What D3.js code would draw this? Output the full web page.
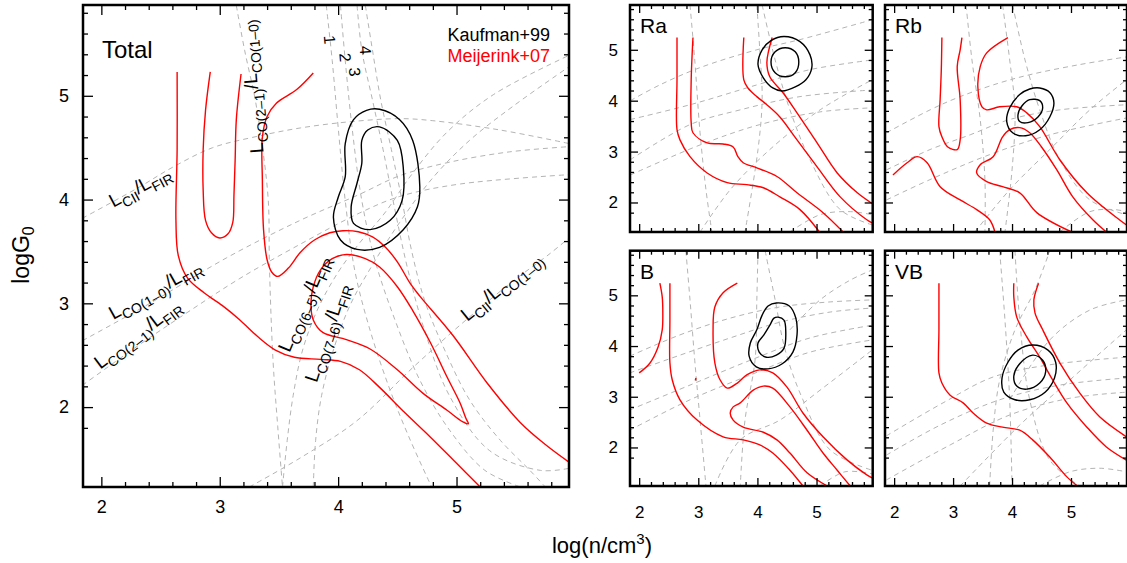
<!DOCTYPE html>
<html>
<head>
<meta charset="utf-8">
<title>PDR diagnostics</title>
<script src="https://d3js.org/d3.v7.min.js"></script>
<style>
  body { margin: 0; background: #fff; }
  text { font-family: "Liberation Sans", Arial, Helvetica, sans-serif; }
</style>
</head>
<body>
<script>
// ---- ticks ----
var xTicks = [2, 3, 4, 5];
var yTicks = [2, 3, 4, 5];
var panelNames = ["Total", "Ra", "Rb", "B", "VB"];
var legendNames = ["Kaufman+99", "Meijerink+07"];

// ---- Total panel: Meijerink+07 (red) ----
var totRed1 = [[2.64,5.23],[2.64,4.48],[2.63,3.80],[2.65,3.46],[2.73,3.24],[2.87,3.10],[3.02,2.98],[3.17,2.84],[3.32,2.68],[3.47,2.55],[3.63,2.48],[3.85,2.46],[4.02,2.44],[4.18,2.36],[4.35,2.19],[4.56,1.95],[4.78,1.71],[4.99,1.47],[5.2,1.23]];
var totRed2 = [[2.92,5.23],[2.88,4.86],[2.86,4.48],[2.86,4.09],[2.88,3.80],[2.93,3.68],[3.0,3.63],[3.07,3.67],[3.11,3.78],[3.12,4.04],[3.13,4.38],[3.14,4.77],[3.18,5.21]];
var totRed3 = [[3.79,5.22],[3.65,5.06],[3.48,4.93],[3.40,4.80],[3.36,4.60],[3.36,4.19],[3.37,3.71],[3.40,3.42],[3.44,3.30],[3.49,3.26],[3.58,3.34],[3.68,3.49],[3.80,3.61],[3.93,3.68],[4.04,3.70],[4.17,3.69],[4.29,3.64],[4.40,3.54],[4.50,3.40],[4.61,3.19],[4.69,3.07],[4.97,2.69],[5.26,2.23],[5.54,1.85],[5.75,1.64],[5.95,1.47]];
var totRed4 = [[4.07,3.47],[4.23,3.43],[4.35,3.35],[4.50,3.16],[4.63,2.93],[4.78,2.62],[4.92,2.29],[5.03,2.04],[5.08,1.89],[5.10,1.84],[5.05,1.86],[4.92,1.97],[4.72,2.13],[4.50,2.36],[4.27,2.56],[4.07,2.65],[3.87,2.72],[3.79,2.84],[3.77,3.00],[3.79,3.16],[3.85,3.32],[3.95,3.43]];
// ---- Total panel: Kaufman+99 (black, closed) ----
var totBlack1 = [[4.35,4.87],[4.52,4.77],[4.63,4.57],[4.69,4.12],[4.67,3.93],[4.55,3.71],[4.35,3.54],[4.16,3.52],[4.02,3.61],[3.96,3.83],[4.00,4.02],[4.06,4.22],[4.06,4.54],[4.13,4.77],[4.24,4.86]];
var totBlack2 = [[4.35,4.70],[4.50,4.57],[4.55,4.31],[4.54,3.99],[4.44,3.80],[4.27,3.71],[4.13,3.77],[4.11,3.93],[4.16,4.16],[4.20,4.35],[4.20,4.57],[4.25,4.67]];
// ---- Total panel: model ratio curves (grey dashed) ----
var totGrey1 = [[1.84,3.82],[2.32,4.12],[2.60,4.31],[2.94,4.50],[3.28,4.60],[3.68,4.69],[4.10,4.75],[4.52,4.78],[4.80,4.76],[5.37,4.67],[5.95,4.54]];
var totGrey2 = [[1.84,2.64],[2.41,3.00],[3.06,3.44],[3.68,3.80],[4.18,4.05],[4.52,4.23],[4.94,4.36],[5.45,4.46],[5.95,4.51]];
var totGrey3 = [[1.84,2.21],[2.32,2.60],[2.75,2.93],[3.17,3.24],[3.68,3.57],[4.18,3.87],[4.52,4.03],[5.03,4.15],[5.95,4.24]];
var totGrey4 = [[3.25,1.23],[3.68,1.51],[4.16,1.87],[4.63,2.38],[5.03,2.79],[5.45,3.19],[5.79,3.48],[5.95,3.63]];
var totGrey5 = [[3.14,5.87],[3.21,5.44],[3.30,4.96],[3.36,4.51],[3.41,3.99],[3.42,3.35],[3.45,2.45],[3.49,1.81],[3.53,1.23]];
var totGrey6 = [[3.53,1.23],[3.57,1.68],[3.62,2.11],[3.70,2.55],[3.83,2.95],[4.00,3.30],[4.18,3.58],[4.40,3.88],[4.62,4.24],[4.92,4.65],[5.31,5.01],[5.95,5.39]];
var totGrey7 = [[3.79,1.23],[3.81,1.68],[3.86,2.11],[3.96,2.55],[4.10,2.98],[4.29,3.37],[4.52,3.78],[4.80,4.21],[5.11,4.57],[5.49,4.91],[5.95,5.28]];
var totGrey8 = [[3.90,5.87],[3.95,5.34],[4.00,4.70],[4.06,3.99],[4.14,3.32],[4.27,2.74],[4.44,2.16],[4.61,1.68],[4.79,1.23]];
var totGrey9 = [[4.02,5.87],[4.06,5.34],[4.12,4.67],[4.20,3.99],[4.31,3.42],[4.48,2.84],[4.69,2.26],[4.94,1.78],[5.24,1.39],[5.54,1.23]];
var totGrey10 = [[4.16,5.87],[4.20,5.44],[4.29,4.96],[4.38,4.48],[4.48,3.90],[4.59,3.32],[4.73,2.74],[4.94,2.11],[5.28,1.58],[5.71,1.39],[5.95,1.41]];
var totGrey11 = [[4.23,5.87],[4.29,5.44],[4.36,4.96],[4.45,4.48],[4.54,3.99],[4.62,3.51],[4.73,3.03],[4.90,2.55],[5.11,2.07],[5.37,1.68],[5.62,1.39],[5.75,1.23]];

// ---- Ra ----
var raRed1 = [[2.64,5.24],[2.64,4.41],[2.64,3.43],[2.69,3.23],[2.86,2.90],[3.15,2.58],[3.49,2.39],[3.82,2.35],[4.10,2.29],[4.38,2.11],[4.72,1.86],[5.05,1.42]];
var raRed2 = [[2.91,5.24],[2.88,4.41],[2.88,3.57],[2.91,3.37],[3.15,3.17],[3.42,3.15],[3.59,3.09],[3.67,2.90],[3.76,2.78],[3.99,2.68],[4.33,2.51],[4.67,2.19],[5.11,1.80],[5.45,1.42]];
var raRed3 = [[3.77,5.24],[3.77,4.41],[3.84,4.25],[3.99,4.08],[4.16,3.92],[4.38,3.68],[4.67,3.23],[5.01,2.70],[5.40,2.11],[5.85,1.66],[5.94,1.60]];
var raRed4 = [[4.25,5.24],[4.16,4.75],[4.21,4.47],[4.43,4.16],[4.67,3.76],[5.01,3.17],[5.35,2.58],[5.69,2.19],[5.94,1.98]];
var raBlack1 = [[4.45,5.26],[4.72,5.16],[4.89,4.90],[4.92,4.65],[4.82,4.41],[4.64,4.27],[4.42,4.19],[4.26,4.25],[4.10,4.45],[4.01,4.71],[4.08,5.0],[4.23,5.18]];
var raBlack2 = [[4.47,5.04],[4.64,4.96],[4.70,4.76],[4.64,4.55],[4.47,4.47],[4.30,4.55],[4.23,4.76],[4.30,4.96]];
var raGrey1 = [[1.85,4.0],[2.35,4.31],[3.03,4.65],[3.99,5.0],[4.72,5.2],[5.94,5.59]];
var raGrey2 = [[1.85,3.63],[2.86,3.92],[3.99,4.31],[4.89,4.61],[5.94,4.80]];
var raGrey3 = [[1.85,2.84],[2.86,3.53],[3.71,3.82],[4.72,4.08],[5.94,4.21]];
var raGrey4 = [[1.85,2.54],[3.03,3.13],[4.04,3.53],[5.06,3.78],[5.94,3.86]];
var raGrey5 = [[2.86,5.88],[2.94,4.80],[3.03,3.37],[3.13,2.25],[3.23,1.42]];
var raGrey6 = [[3.99,5.88],[4.04,5.0],[4.08,4.02],[4.01,3.04],[3.79,1.42]];
var raGrey7 = [[4.08,5.88],[4.30,4.80],[4.55,3.82],[4.89,2.84],[5.40,1.86],[5.94,1.56]];
var raGrey8 = [[3.03,1.42],[3.54,2.25],[4.21,3.04],[5.06,3.82],[5.94,4.41]];
var raGrey9 = [[4.55,1.42],[5.06,1.76],[5.57,1.82],[5.94,1.76]];

// ---- Rb ----
var rbRed1 = [[2.81,5.24],[2.80,4.61],[2.78,4.02],[2.76,3.49],[2.81,3.29],[2.91,3.09],[3.07,3.04],[3.12,3.23],[3.12,4.02],[3.07,4.67],[3.12,5.0],[3.15,5.24]];
var rbRed2 = [[3.93,5.24],[3.57,4.94],[3.46,4.67],[3.42,4.27],[3.49,3.88],[3.57,3.82],[3.79,3.88],[4.08,3.88],[4.25,3.76],[4.47,3.49],[4.81,2.84],[5.27,2.19],[5.82,1.66],[5.94,1.56]];
var rbRed3 = [[1.98,2.54],[2.22,2.78],[2.39,2.90],[2.56,2.78],[2.78,2.31],[3.12,2.05],[3.40,1.86],[3.62,1.66],[3.71,1.42]];
var rbRed4 = [[5.01,1.42],[4.42,1.80],[4.13,2.19],[3.84,2.31],[3.57,2.41],[3.40,2.58],[3.46,2.74],[3.68,2.90],[3.84,3.29],[3.96,3.43],[4.13,3.47],[4.30,3.37],[4.50,3.09],[4.76,2.64],[5.03,2.11],[5.37,1.66],[5.60,1.42]];
var rbBlack1 = [[4.47,4.25],[4.64,4.16],[4.71,3.96],[4.64,3.68],[4.47,3.43],[4.23,3.31],[4.01,3.37],[3.91,3.59],[3.96,3.86],[4.13,4.12],[4.30,4.23]];
var rbBlack2 = [[4.30,4.02],[4.47,4.00],[4.52,3.86],[4.44,3.68],[4.27,3.57],[4.13,3.59],[4.10,3.72],[4.17,3.90]];
var rbGrey1 = [[1.87,3.37],[2.61,3.82],[3.12,4.08],[3.79,4.35],[4.30,4.51],[5.15,4.71],[5.94,4.86]];
var rbGrey2 = [[1.87,2.64],[2.61,3.04],[3.29,3.33],[3.96,3.63],[4.81,3.82],[5.94,3.92]];
var rbGrey3 = [[1.87,2.05],[2.61,2.45],[3.62,2.94],[4.64,3.33],[5.94,3.66]];
var rbGrey4 = [[3.22,5.88],[3.32,4.80],[3.46,3.63],[3.54,2.45],[3.54,1.42]];
var rbGrey5 = [[3.84,5.88],[3.96,4.80],[4.05,3.82],[4.00,2.64],[3.88,1.42]];
var rbGrey6 = [[4.01,5.88],[4.22,4.80],[4.47,3.82],[4.81,2.84],[5.32,2.05],[5.94,1.76]];
var rbGrey7 = [[3.37,1.42],[3.96,2.25],[4.64,3.04],[5.32,3.82],[5.94,4.41]];
var rbGrey8 = [[4.81,1.42],[5.32,1.82],[5.74,1.86],[5.94,1.82]];

// ---- B ----
var bRed1 = [[2.0,3.47],[2.18,3.66],[2.32,3.98],[2.39,4.32],[2.40,4.65],[2.39,4.97],[2.35,5.24]];
var bRed2 = [[2.52,5.24],[2.52,4.51],[2.52,3.67],[2.56,3.33],[2.69,2.94],[2.98,2.54],[3.42,2.21],[3.76,2.15],[4.04,2.05],[4.26,1.89],[4.55,1.55],[4.77,1.24]];
var bRed3 = [[3.66,5.24],[3.42,5.05],[3.28,4.77],[3.25,4.32],[3.28,3.67],[3.37,3.33],[3.49,3.17],[3.66,3.27],[3.82,3.43],[4.04,3.53],[4.26,3.47],[4.50,3.19],[4.77,2.68],[5.11,2.21],[5.52,1.75],[5.85,1.46],[5.94,1.40]];
var bRed4 = [[5.18,1.24],[4.84,1.50],[4.55,1.89],[4.33,2.15],[4.10,2.30],[3.76,2.40],[3.59,2.54],[3.54,2.68],[3.59,2.80],[3.71,2.88],[3.93,3.13],[4.10,3.21],[4.26,3.17],[4.55,2.80],[4.84,2.34],[5.11,1.89],[5.35,1.55],[5.57,1.24]];
var bRed5 = [[2.95,3.32],[2.96,3.37]];
var bBlack1 = [[4.32,4.85],[4.54,4.79],[4.65,4.55],[4.67,4.22],[4.60,3.88],[4.42,3.65],[4.18,3.55],[3.98,3.59],[3.86,3.80],[3.88,4.06],[3.99,4.32],[4.08,4.61],[4.18,4.79]];
var bBlack2 = [[4.35,4.57],[4.45,4.51],[4.48,4.26],[4.45,3.96],[4.32,3.82],[4.15,3.78],[4.03,3.88],[4.01,4.06],[4.11,4.22],[4.21,4.41],[4.28,4.55]];
var bGrey1 = [[1.84,3.80],[2.69,4.22],[3.54,4.55],[4.38,4.77],[5.23,4.87],[5.94,4.91]];
var bGrey2 = [[1.84,3.47],[2.69,3.82],[3.54,4.16],[4.38,4.47],[5.23,4.67],[5.94,4.75]];
var bGrey3 = [[1.84,2.74],[2.86,3.23],[3.88,3.72],[4.89,4.16],[5.94,4.41]];
var bGrey4 = [[1.84,2.34],[2.86,2.94],[3.88,3.43],[4.89,3.88],[5.94,4.12]];
var bGrey5 = [[2.79,5.88],[2.86,4.91],[2.94,3.72],[3.03,2.54],[3.13,1.24]];
var bGrey6 = [[4.01,5.88],[3.99,4.91],[3.96,3.72],[3.79,2.54],[3.71,1.24]];
var bGrey7 = [[4.13,5.88],[4.30,4.91],[4.47,3.92],[4.77,2.94],[5.23,1.95],[5.94,1.55]];
var bGrey8 = [[3.28,1.24],[3.71,2.15],[4.38,2.54],[5.06,3.13],[5.94,3.92]];
var bGrey9 = [[4.55,4.32],[5.06,4.91],[5.57,5.30],[5.94,5.50]];
var bGrey10 = [[5.06,1.24],[5.48,1.52],[5.94,1.48]];

// ---- VB ----
var vbRed1 = [[2.76,5.24],[2.76,4.32],[2.76,3.47],[2.81,3.27],[2.95,3.03],[3.17,2.88],[3.34,2.68],[3.57,2.48],[3.84,2.40],[4.13,2.34],[4.35,2.15],[4.64,1.81],[4.93,1.42],[5.11,1.24]];
var vbRed2 = [[4.03,5.24],[4.03,4.97],[4.08,4.57],[4.25,4.18],[4.47,3.78],[4.69,3.33],[4.93,2.88],[5.27,2.40],[5.60,2.01],[5.94,1.75]];
var vbRed3 = [[4.45,5.24],[4.37,4.91],[4.39,4.65],[4.52,4.32],[4.81,3.67],[5.15,3.07],[5.49,2.60],[5.94,2.21]];
var vbBlack1 = [[4.35,4.02],[4.61,3.92],[4.74,3.68],[4.72,3.37],[4.56,3.09],[4.30,2.94],[4.05,2.94],[3.86,3.09],[3.83,3.37],[3.93,3.68],[4.10,3.92]];
var vbBlack2 = [[4.35,3.82],[4.52,3.72],[4.57,3.49],[4.47,3.27],[4.25,3.15],[4.08,3.21],[4.03,3.41],[4.13,3.65]];
var vbGrey1 = [[1.87,2.23],[2.83,2.88],[3.68,3.39],[4.64,3.63],[5.94,3.78]];
var vbGrey2 = [[1.87,1.85],[2.78,2.44],[3.79,2.94],[4.81,3.23],[5.94,3.37]];
var vbGrey3 = [[1.87,1.36],[2.95,2.05],[3.96,2.64],[4.98,2.97],[5.94,3.09]];
var vbGrey4 = [[3.12,1.24],[4.13,2.44],[4.98,3.33],[5.94,4.32]];
var vbGrey5 = [[4.47,1.24],[4.98,1.52],[5.49,1.59],[5.94,1.52]];
var vbGrey6 = [[3.79,5.88],[3.88,4.51],[3.96,2.94],[4.00,1.24]];
var vbGrey7 = [[4.05,5.88],[4.13,4.51],[4.30,2.94],[4.64,1.75],[5.15,1.24]];
var vbGrey8 = [[3.62,1.24],[3.68,2.34],[3.79,3.33],[4.05,4.32],[4.39,5.11],[4.64,5.88]];
var vbGrey9 = [[3.96,2.94],[4.64,4.12],[5.32,4.71],[5.94,4.91]];

// ---- curve labels in the Total panel: [x, y, angle, parts] ----
var curveLabels = [
  [2.10, 3.92, -28, [["L",0],["CII",1],["/",0],["L",0],["FIR",1]]],
  [3.37, 4.45, -95, [["L",0],["CO(2\u20131)",1],["/",0],["L",0],["CO(1\u20130)",1]]],
  [2.10, 2.84, -29, [["L",0],["CO(1\u20130)",1],["/",0],["L",0],["FIR",1]]],
  [1.99, 2.36, -37, [["L",0],["CO(2\u20131)",1],["/",0],["L",0],["FIR",1]]],
  [3.59, 2.52, -67, [["L",0],["CO(6\u20135)",1],["/",0],["L",0],["FIR",1]]],
  [3.82, 2.23, -72, [["L",0],["CO(7\u20136)",1],["/",0],["L",0],["FIR",1]]],
  [5.09, 2.82, -39, [["L",0],["CII",1],["/",0],["L",0],["CO(1\u20130)",1]]]
];
var lineNumbers = [["1", 3.93, 5.54], ["2", 4.06, 5.37], ["3", 4.14, 5.23], ["4", 4.23, 5.44]];

var W = 1127, H = 563;
var svg = d3.select("body").append("svg").attr("width", W).attr("height", H);

var panels = [
  { name: panelNames[0], box: [83, 569, 5, 487], ydom: [1.23, 5.875], fs: 18, major: 10, minor: 5,
    xlab: true, ylab: true, padX: 13, padY: 14, title: 24, tdx: 19, tdy: 53,
    red: [totRed1, totRed2, totRed3], redClosed: [totRed4], black: [totBlack1, totBlack2],
    grey: [totGrey1, totGrey2, totGrey3, totGrey4, totGrey5, totGrey6, totGrey7, totGrey8, totGrey9, totGrey10, totGrey11] },
  { name: panelNames[1], box: [630, 872.7, 5, 232], ydom: [1.42, 5.88], fs: 17, major: 8, minor: 4,
    xlab: false, ylab: true, padX: 20, padY: 12, title: 21, tdx: 10, tdy: 28,
    red: [raRed1, raRed2, raRed3, raRed4], redClosed: [], black: [raBlack1, raBlack2],
    grey: [raGrey1, raGrey2, raGrey3, raGrey4, raGrey5, raGrey6, raGrey7, raGrey8, raGrey9] },
  { name: panelNames[2], box: [885, 1127, 5, 232], ydom: [1.42, 5.88], fs: 17, major: 8, minor: 4,
    xlab: false, ylab: false, padX: 20, padY: 12, title: 21, tdx: 10, tdy: 28,
    red: [rbRed1, rbRed2, rbRed3, rbRed4], redClosed: [], black: [rbBlack1, rbBlack2],
    grey: [rbGrey1, rbGrey2, rbGrey3, rbGrey4, rbGrey5, rbGrey6, rbGrey7, rbGrey8] },
  { name: panelNames[3], box: [630, 872.7, 250.7, 486], ydom: [1.24, 5.88], fs: 17, major: 8, minor: 4,
    xlab: true, ylab: true, padX: 20, padY: 12, title: 21, tdx: 10, tdy: 28,
    red: [bRed1, bRed2, bRed3, bRed4, bRed5], redClosed: [], black: [bBlack1, bBlack2],
    grey: [bGrey1, bGrey2, bGrey3, bGrey4, bGrey5, bGrey6, bGrey7, bGrey8, bGrey9, bGrey10] },
  { name: panelNames[4], box: [885, 1127, 250.7, 486], ydom: [1.24, 5.88], fs: 17, major: 8, minor: 4,
    xlab: true, ylab: false, padX: 20, padY: 12, title: 21, tdx: 10, tdy: 28,
    red: [vbRed1, vbRed2, vbRed3], redClosed: [], black: [vbBlack1, vbBlack2],
    grey: [vbGrey1, vbGrey2, vbGrey3, vbGrey4, vbGrey5, vbGrey6, vbGrey7, vbGrey8, vbGrey9] }
];

var xMinor = d3.range(9, 31).map(function(i){ return i / 5; }).filter(function(v){ return v % 1 !== 0; });

function drawPanel(p, idx) {
  var x = d3.scaleLinear().domain([1.845, 5.95]).range([p.box[0], p.box[1]]);
  var y = d3.scaleLinear().domain(p.ydom).range([p.box[3], p.box[2]]);
  var g = svg.append("g");

  var clipId = "clip" + idx;
  svg.append("clipPath").attr("id", clipId).append("rect")
     .attr("x", p.box[0]).attr("y", p.box[2])
     .attr("width", p.box[1] - p.box[0]).attr("height", p.box[3] - p.box[2]);

  var plot = g.append("g").attr("clip-path", "url(#" + clipId + ")");
  var line = d3.line().x(function(d){ return x(d[0]); }).y(function(d){ return y(d[1]); })
               .curve(d3.curveCatmullRom.alpha(0.5));
  var closed = d3.line().x(function(d){ return x(d[0]); }).y(function(d){ return y(d[1]); })
               .curve(d3.curveCatmullRomClosed.alpha(0.5));

  plot.selectAll("path.grey").data(p.grey).enter().append("path")
      .attr("class", "grey").attr("d", line)
      .attr("fill", "none").attr("stroke", "#b4b4b4").attr("stroke-width", 1)
      .attr("stroke-dasharray", "5,4");
  plot.selectAll("path.red").data(p.red).enter().append("path")
      .attr("class", "red").attr("d", line)
      .attr("fill", "none").attr("stroke", "#ff0000").attr("stroke-width", 1.4);
  plot.selectAll("path.redc").data(p.redClosed).enter().append("path")
      .attr("class", "redc").attr("d", closed)
      .attr("fill", "none").attr("stroke", "#ff0000").attr("stroke-width", 1.4);
  plot.selectAll("path.black").data(p.black).enter().append("path")
      .attr("class", "black").attr("d", closed)
      .attr("fill", "none").attr("stroke", "#000").attr("stroke-width", 1.4);

  // axes, ticks pointing inward on all four sides
  var xd = x.domain(), yd = y.domain();
  var xm = xMinor.filter(function(v){ return v > xd[0] && v < xd[1]; });
  var ym = xMinor.filter(function(v){ return v > yd[0] && v < yd[1]; });
  function fmt(show) { return show ? d3.format("d") : function(){ return ""; }; }
  var axes = [
    [d3.axisBottom(x).tickValues(xTicks).tickSize(-p.major).tickPadding(p.padX).tickFormat(fmt(p.xlab)), "translate(0," + p.box[3] + ")"],
    [d3.axisBottom(x).tickValues(xm).tickSize(-p.minor).tickFormat(""), "translate(0," + p.box[3] + ")"],
    [d3.axisTop(x).tickValues(xTicks).tickSize(-p.major).tickFormat(""), "translate(0," + p.box[2] + ")"],
    [d3.axisTop(x).tickValues(xm).tickSize(-p.minor).tickFormat(""), "translate(0," + p.box[2] + ")"],
    [d3.axisLeft(y).tickValues(yTicks).tickSize(-p.major).tickPadding(p.padY).tickFormat(fmt(p.ylab)), "translate(" + p.box[0] + ",0)"],
    [d3.axisLeft(y).tickValues(ym).tickSize(-p.minor).tickFormat(""), "translate(" + p.box[0] + ",0)"],
    [d3.axisRight(y).tickValues(yTicks).tickSize(-p.major).tickFormat(""), "translate(" + p.box[1] + ",0)"],
    [d3.axisRight(y).tickValues(ym).tickSize(-p.minor).tickFormat(""), "translate(" + p.box[1] + ",0)"]
  ];
  axes.forEach(function(a) {
    var ag = g.append("g").attr("transform", a[1]).call(a[0]);
    ag.select(".domain").remove();
    ag.selectAll("line").attr("stroke", "#000").attr("stroke-width", 1.3);
    ag.selectAll("text").attr("font-size", p.fs).attr("fill", "#000")
      .attr("font-family", "'Liberation Sans', Arial, Helvetica, sans-serif");
  });

  g.append("rect").attr("x", p.box[0]).attr("y", p.box[2])
    .attr("width", p.box[1] - p.box[0]).attr("height", p.box[3] - p.box[2])
    .attr("fill", "none").attr("stroke", "#000").attr("stroke-width", 2.5);

  g.append("text").attr("x", p.box[0] + p.tdx).attr("y", p.box[2] + p.tdy)
    .attr("font-size", p.title).text(p.name);

  return { x: x, y: y, g: g };
}

var made = panels.map(drawPanel);

// labels on the Total panel
var tot = made[0];
function subLabel(g, px, py, angle, parts, big, small) {
  var t = g.append("text").attr("transform", "translate(" + px + "," + py + ") rotate(" + angle + ")");
  var shift = 0;
  parts.forEach(function(pt) {
    var want = pt[1] ? big * 0.3 : 0;
    t.append("tspan").attr("font-size", pt[1] ? small : big).attr("dy", want - shift).text(pt[0]);
    shift = want;
  });
}
curveLabels.forEach(function(c) {
  subLabel(tot.g, tot.x(c[0]), tot.y(c[1]), c[2], c[3], 19, 14);
});
tot.g.selectAll("text.num").data(lineNumbers).enter().append("text")
  .attr("class", "num")
  .attr("transform", function(d){ return "translate(" + tot.x(d[1]) + "," + tot.y(d[2]) + ") rotate(85)"; })
  .attr("text-anchor", "middle").attr("dy", "0.35em")
  .attr("font-size", 16).text(function(d){ return d[0]; });

tot.g.selectAll("text.leg").data(legendNames).enter().append("text")
  .attr("class", "leg")
  .attr("x", 550).attr("y", function(d, i){ return 41 + i * 21; })
  .attr("text-anchor", "end").attr("font-size", 18)
  .attr("fill", function(d, i){ return i === 0 ? "#000" : "#ff0000"; })
  .text(function(d){ return d; });

// axis titles
var xt = svg.append("text").attr("x", 602).attr("y", 553).attr("text-anchor", "middle").attr("font-size", 22);
xt.append("tspan").text("log(n/cm");
xt.append("tspan").attr("font-size", 15).attr("dy", -9).text("3");
xt.append("tspan").attr("dy", 9).text(")");

var yt = svg.append("text").attr("transform", "translate(29,255) rotate(-90)").attr("text-anchor", "middle").attr("font-size", 23);
yt.append("tspan").text("logG");
yt.append("tspan").attr("font-size", 16).attr("dy", 5).text("0");
</script>
</body>
</html>
